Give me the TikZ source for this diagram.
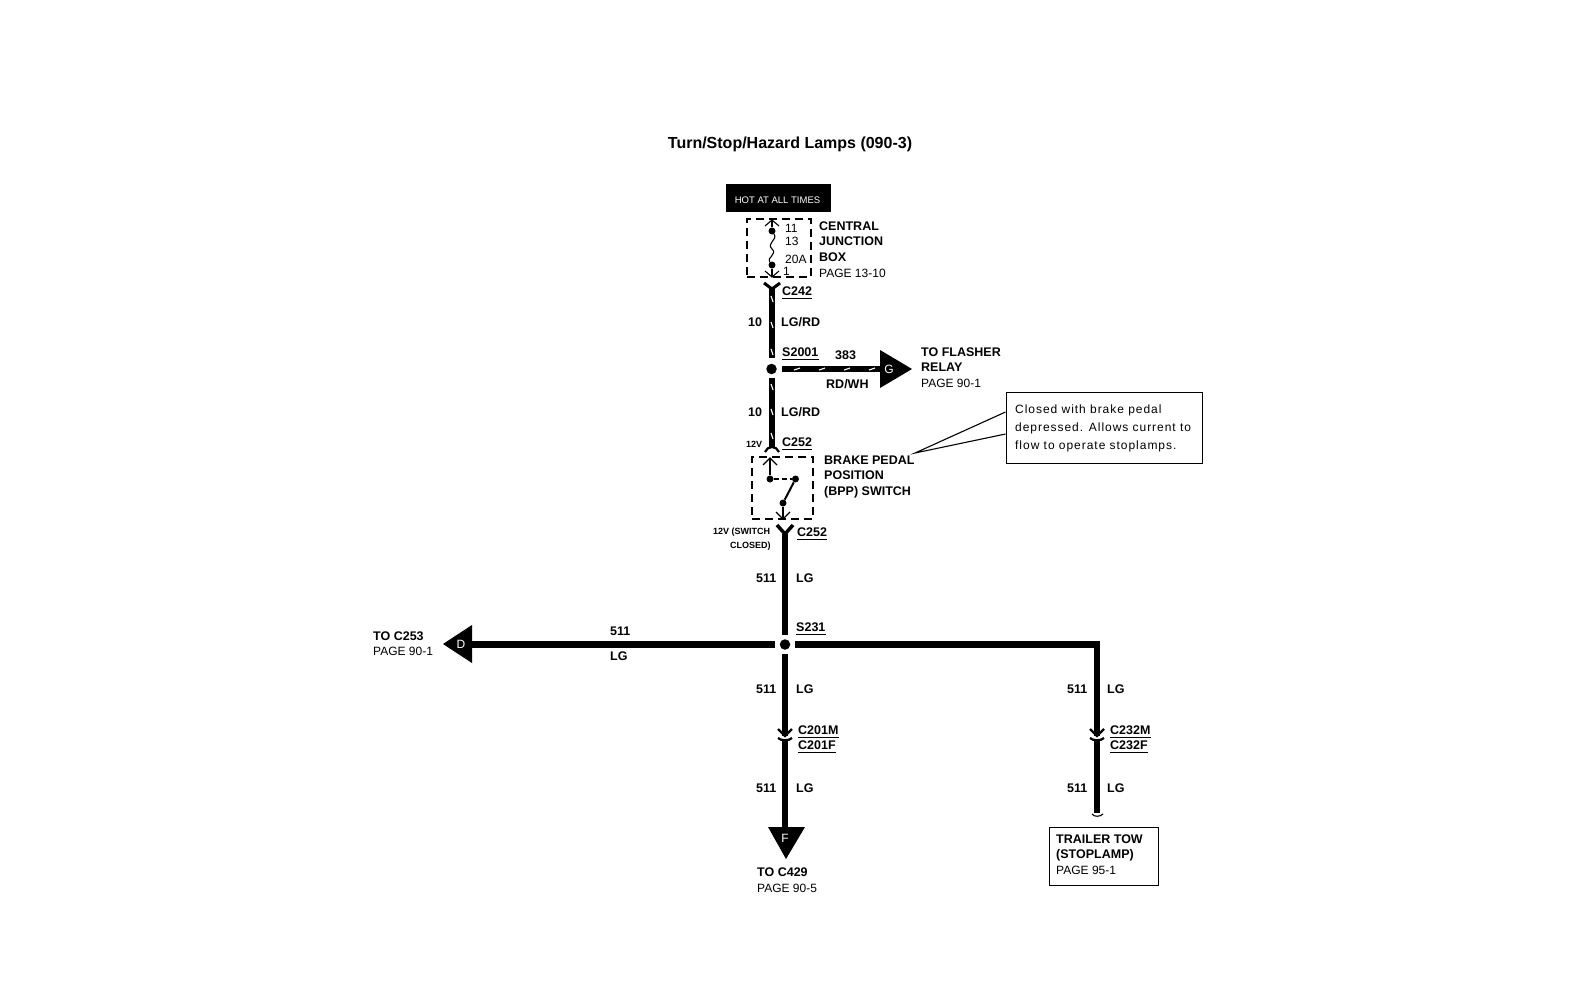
\documentclass[tikz,border=0pt]{standalone}
\usepackage{fontspec}
\setmainfont{Liberation Sans}
\tikzset{
  x=1pt,y=-1pt,
  wire/.style={line width=6.5pt},
  stripewire/.style={line width=5.5pt},
  stripe/.style={white,line width=1.1pt},
  lbl/.style={font=\bfseries\fontsize{12.5}{14}\selectfont,inner sep=0pt,anchor=west,text height=9pt,text depth=1pt},
  pagelbl/.style={font=\fontsize{12}{14}\selectfont,inner sep=0pt,anchor=west,text height=9pt,text depth=1pt},
  notelbl/.style={pagelbl,font=\fontsize{12}{14}\selectfont\addfontfeature{LetterSpace=8}},
  tiny/.style={font=\bfseries\fontsize{9}{10}\selectfont,inner sep=0pt,anchor=west},
  dashbox/.style={draw,line width=2.4pt,dash pattern=on 8pt off 5pt},
  thin wire/.style={line width=1.1pt},
  dotnode/.style={circle,fill=black,inner sep=0pt,minimum size=7pt},
  splicenode/.style={circle,fill=black,inner sep=0pt,minimum size=10.5pt},
  arrowtag/.style={white,font=\fontsize{12}{14}\selectfont,inner sep=0pt},
}
\begin{document}
\begin{tikzpicture}
\useasboundingbox (0,0) rectangle (1578,988);
\node[font=\bfseries\fontsize{16}{18}\selectfont] (title) at (790,144) {Turn/Stop/Hazard Lamps (090-3)};
\node[fill=black,minimum width=105pt,minimum height=28pt,inner sep=0pt] (hot) at (778.5,198) {};
\node[text=white,font=\fontsize{9.5}{10}\selectfont,inner sep=0pt] (hottext) at (777.5,200) {HOT AT ALL TIMES};
\node[dashbox,minimum width=64pt,minimum height=58pt,inner sep=0pt] (cjb) at (779,248) {};
\node[pagelbl] at (785,228) {11};
\node[pagelbl] at (785,241) {13};
\node[pagelbl] at (785,259) {20A};
\node[pagelbl] at (783,271) {1};
\node[dotnode] (fa) at (772,231) {};
\node[dotnode] (fb) at (772,265) {};
\coordinate (fatop) at (772,220);
\coordinate (fbbot) at (772,277);
\draw[thin wire] (fatop) -- (fa);
\draw[thin wire] (fb) -- (fbbot);
\draw[thin wire] (fa) .. controls (778,240) and (766,243) .. (772,249) .. controls (778,254) and (766,258) .. (fb);
\draw[thin wire] (765,226) -- (fatop) -- (779,226);
\draw[thin wire] (765,271) -- (fbbot) -- (779,271);
\node[lbl] at (819,226) {CENTRAL};
\node[lbl] at (819,241) {JUNCTION};
\node[lbl] at (819,257) {BOX};
\node[pagelbl] at (819,273) {PAGE 13-10};
\coordinate (c242t) at (772,289);
\node[splicenode] (s2001) at (771.5,369) {};
\coordinate (s2001up) at (772,358);
\coordinate (s2001dn) at (772,378);
\coordinate (s2001rt) at (782,369);
\draw[stripewire] (c242t) -- (s2001up);
\draw[line width=3pt] (764,283) -- (c242t) -- (780,283);
\draw[stripe] (771,296) -- (773,302) (771,322) -- (773,328) (771,349) -- (773,355);
\node[lbl] (c242) at (782,291) {C242};
\draw[thin wire] (c242.south west)++(0,2) -- ([yshift=-2pt]c242.south east);
\node[lbl] at (748,322) {10};
\node[lbl] at (781,322) {LG/RD};
\node[lbl] (s2001lbl) at (782,352) {S2001};
\draw[thin wire] (s2001lbl.south west)++(0,2) -- ([yshift=-2pt]s2001lbl.south east);
\fill (880,350) -- (912,369) -- (880,388) -- cycle;
\coordinate (garrow) at (880,369);
\draw[stripewire] (s2001rt) -- (garrow);
\draw[stripe] (794,370) -- (800,368) (819,370) -- (825,368) (844,370) -- (850,368) (869,370) -- (875,368);
\node[arrowtag] at (889,369) {G};
\node[lbl] at (835,355) {383};
\node[lbl] at (826,384) {RD/WH};
\node[lbl] at (921,352) {TO FLASHER};
\node[lbl] at (921,367) {RELAY};
\node[pagelbl] at (921,383) {PAGE 90-1};
\coordinate (c252t) at (772,447);
\draw[stripewire] (s2001dn) -- (c252t);
\draw[stripe] (771,384) -- (773,390) (771,409) -- (773,415) (771,433) -- (773,439);
\draw[line width=2.2pt] (765,452) .. controls (766,449) and (769,447) .. (c252t) .. controls (775,447) and (778,449) .. (779,452);
\node[lbl] at (748,412) {10};
\node[lbl] at (781,412) {LG/RD};
\node[tiny] at (746,444) {12V};
\node[lbl] (c252a) at (782,442) {C252};
\draw[thin wire] (c252a.south west)++(0,2) -- ([yshift=-2pt]c252a.south east);
\node[dashbox,minimum width=61pt,minimum height=62pt,inner sep=0pt] (bpp) at (782.5,488) {};
\node[dotnode] (sa) at (770,479) {};
\node[dotnode] (sb) at (795.5,479) {};
\node[dotnode] (sc) at (783,503) {};
\coordinate (satop) at (770,458);
\coordinate (scbot) at (783,519);
\draw[thin wire] (satop) -- (sa);
\draw[thin wire] (763,465) -- (satop) -- (777,465);
\draw[thin wire,dash pattern=on 5pt off 3pt] (sa) -- (sb);
\draw[line width=2pt] (sb) -- (sc);
\draw[thin wire] (sc) -- (scbot);
\draw[thin wire] (776,512) -- (scbot) -- (790,512);
\node[lbl] at (824,460) {BRAKE PEDAL};
\node[lbl] at (824,475) {POSITION};
\node[lbl] at (824,491) {(BPP) SWITCH};
\node[tiny] at (713,532) {12V (SWITCH};
\node[tiny] at (730,546) {CLOSED)};
\node[lbl] (c252b) at (797,532) {C252};
\draw[thin wire] (c252b.south west)++(0,2) -- ([yshift=-2pt]c252b.south east);
\coordinate (c252bt) at (785,534);
\node[splicenode,outer sep=4.5pt] (s231) at (785,644.5) {};
\draw[wire] (c252bt) -- (s231);
\draw[line width=3.5pt] (777,525) -- (c252bt) -- (793,525);
\node[lbl] at (756,578) {511};
\node[lbl] at (796,578) {LG};
\node[lbl] (s231lbl) at (796,627) {S231};
\draw[thin wire] (s231lbl.south west)++(0,2) -- ([yshift=-2pt]s231lbl.south east);
\fill (472,625) -- (443,644) -- (472,663) -- cycle;
\coordinate (darrow) at (472,644.5);
\draw[wire] (darrow) -- (s231);
\node[arrowtag] at (461,644) {D};
\node[lbl] at (610,631) {511};
\node[lbl] at (610,656) {LG};
\node[lbl] at (373,636) {TO C253};
\node[pagelbl] at (373,651) {PAGE 90-1};
\coordinate (c232t) at (1097,736);
\coordinate (c232b) at (1097,741);
\coordinate (trailer) at (1097,813);
\draw[wire] (s231) -| (c232t);
\draw[wire] (c232b) -- (trailer);
\draw[line width=2.2pt] (1090,729) -- (c232t) -- (1104,729);
\draw[line width=2.2pt] (1090,738) .. controls (1093,741) and (1101,741) .. (1104,738);
\draw[thin wire] (1092,814) .. controls (1094,817) and (1100,817) .. (1103,814);
\node[lbl] at (1067,689) {511};
\node[lbl] at (1107,689) {LG};
\node[lbl] (c232m) at (1110,730) {C232M};
\node[lbl] (c232f) at (1110,745) {C232F};
\draw[thin wire] (c232m.south west)++(0,2) -- ([yshift=-2pt]c232m.south east);
\draw[thin wire] (c232f.south west)++(0,2) -- ([yshift=-2pt]c232f.south east);
\node[lbl] at (1067,788) {511};
\node[lbl] at (1107,788) {LG};
\node[draw,line width=1pt,minimum width=109pt,minimum height=58pt,inner sep=0pt] (trailerbox) at (1103.5,856) {};
\node[lbl] at (1056,839) {TRAILER TOW};
\node[lbl] at (1056,854) {(STOPLAMP)};
\node[pagelbl] at (1056,870) {PAGE 95-1};
\coordinate (c201t) at (785,736);
\coordinate (c201b) at (785,741);
\coordinate (farrow) at (785,827);
\draw[wire] (s231) -- (c201t);
\draw[wire] (c201b) -- (farrow);
\draw[line width=2.2pt] (778,729) -- (c201t) -- (792,729);
\draw[line width=2.2pt] (778,738) .. controls (781,741) and (789,741) .. (792,738);
\fill (768,827) -- (805,827) -- (786,859) -- cycle;
\node[arrowtag] at (785,838) {F};
\node[lbl] at (756,689) {511};
\node[lbl] at (796,689) {LG};
\node[lbl] (c201m) at (798,730) {C201M};
\node[lbl] (c201f) at (798,745) {C201F};
\draw[thin wire] (c201m.south west)++(0,2) -- ([yshift=-2pt]c201m.south east);
\draw[thin wire] (c201f.south west)++(0,2) -- ([yshift=-2pt]c201f.south east);
\node[lbl] at (756,788) {511};
\node[lbl] at (796,788) {LG};
\node[lbl] at (757,872) {TO C429};
\node[pagelbl] at (757,888) {PAGE 90-5};
\node[draw,line width=1pt,minimum width=196pt,minimum height=71pt,inner sep=0pt] (note) at (1104,427.5) {};
\node[notelbl] at (1015,409) {Closed with brake pedal};
\node[notelbl] at (1015,427) {depressed.  Allows current to};
\node[notelbl] at (1015,445) {flow to operate stoplamps.};
\coordinate (callout) at (915,453);
\draw[thin wire] (note.west |- 0,412) -- (callout) -- (note.west |- 0,434);
\end{tikzpicture}
\end{document}
